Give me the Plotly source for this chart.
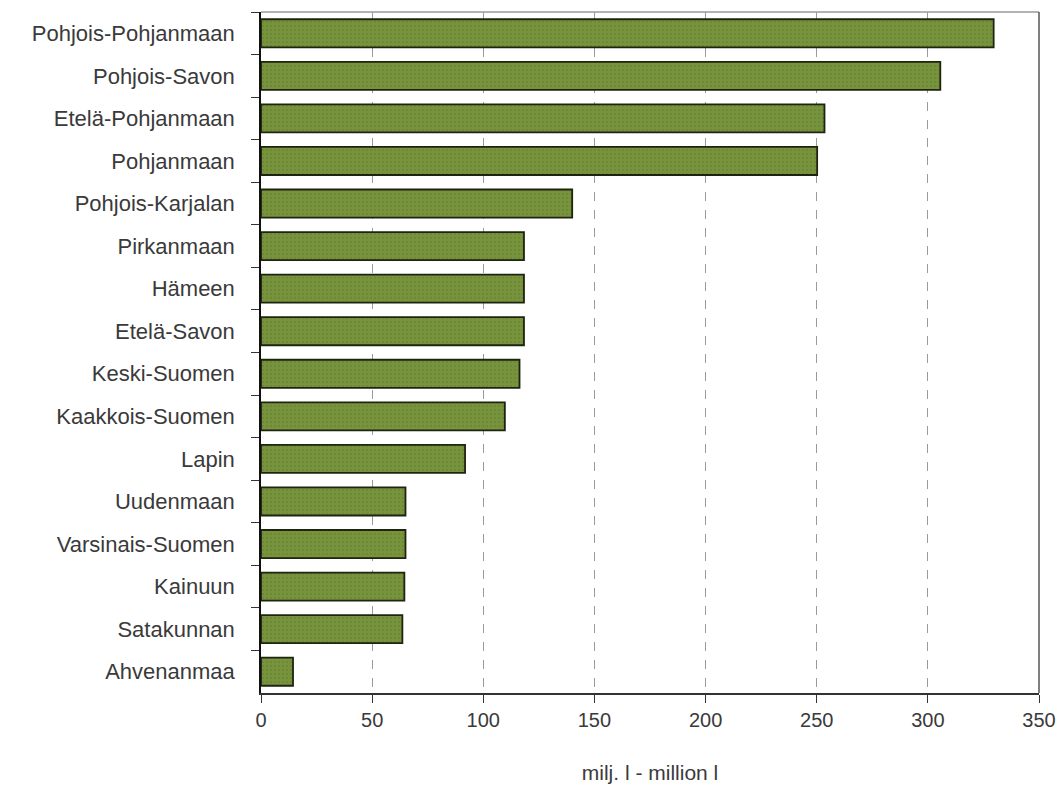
import plotly.graph_objects as go

regions = ["Pohjois-Pohjanmaan", "Pohjois-Savon", "Etelä-Pohjanmaan", "Pohjanmaan",
           "Pohjois-Karjalan", "Pirkanmaan", "Hämeen", "Etelä-Savon", "Keski-Suomen",
           "Kaakkois-Suomen", "Lapin", "Uudenmaan", "Varsinais-Suomen", "Kainuun",
           "Satakunnan", "Ahvenanmaa"]
values = [329.6, 305.6, 253.5, 250.2, 140.0, 118.3, 118.3, 118.3, 116.3, 109.7,
          91.8, 65.0, 65.0, 64.5, 63.6, 14.4]
x_ticks = [0, 50, 100, 150, 200, 250, 300, 350]
x_title = "milj. l - million l"

font_family = "Liberation Sans, Arial, sans-serif"

fig = go.Figure(go.Bar(
    x=values, y=regions, orientation="h",
    marker=dict(color="#77933C",
                line=dict(color="#1e2410", width=1.8),
                pattern=dict(shape=".", fgcolor="#5b7330", size=4, solidity=0.2)),
    width=0.66,
))

fig.update_layout(
    width=1061, height=794,
    margin=dict(l=261, r=22, t=12, b=101, autoexpand=False),
    paper_bgcolor="white", plot_bgcolor="white",
    showlegend=False,
    font=dict(family=font_family, color="#3a3a3a", size=20),
    xaxis=dict(range=[0, 350], tickvals=x_ticks, ticks="outside", ticklen=8,
               tickcolor="#333333", showline=True, linecolor="#333333", linewidth=1.5,
               showgrid=True, gridcolor="#9a9a9a", griddash="dash", gridwidth=1,
               zeroline=False, automargin=False, ticklabeloverflow="allow",
               tickfont=dict(size=20, color="#3a3a3a"),
               title=dict(text=x_title, font=dict(size=21, color="#3a3a3a"), standoff=36)),
    yaxis=dict(categoryorder="array", categoryarray=regions, autorange="reversed",
               ticks="outside", ticklen=8, tickson="boundaries", tickcolor="#333333",
               showline=True, linecolor="#111111", linewidth=1.5, showgrid=False,
               ticklabelstandoff=20, automargin=False,
               tickfont=dict(size=22, color="#3a3a3a")),
    shapes=[
        dict(type="line", xref="paper", yref="paper", x0=0, x1=1, y0=1, y1=1,
             line=dict(color="#9a9a9a", width=1.5)),
        dict(type="line", xref="paper", yref="paper", x0=1, x1=1, y0=0, y1=1,
             line=dict(color="#555555", width=1.5)),
    ],
)

fig.write_html("out.html",
               config={"displayModeBar": False},
               post_script="document.body.style.margin='0';document.body.style.overflow='hidden';")
